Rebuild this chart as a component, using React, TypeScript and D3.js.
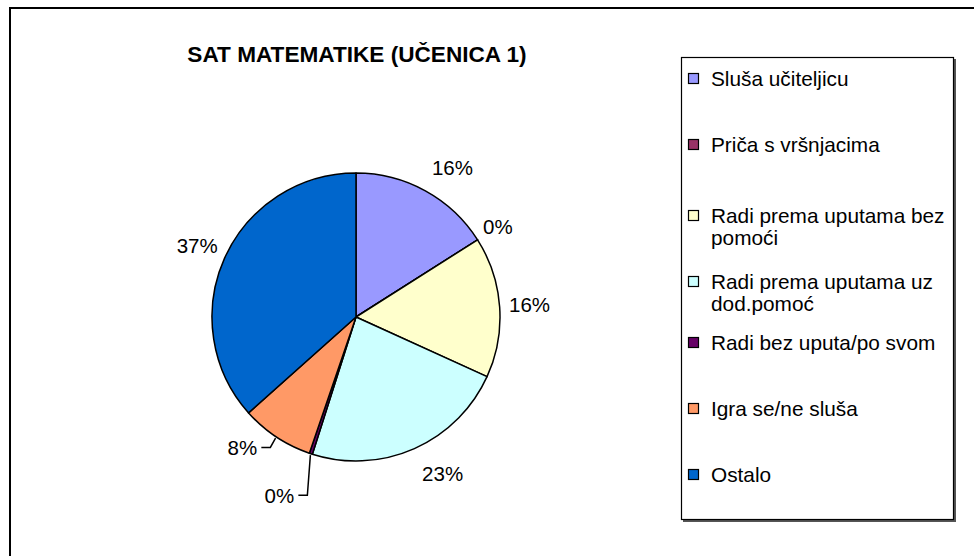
import * as d3 from "d3";

// Pie: share of observed time per activity (Excel-style chart)
const categories = [
  "Sluša učiteljicu",
  "Priča s vršnjacima",
  "Radi prema uputama bez\npomoći",
  "Radi prema uputama uz\ndod.pomoć",
  "Radi bez uputa/po svom",
  "Igra se/ne sluša",
  "Ostalo",
];
const values = [16, 0, 15.8, 23.1, 0.35, 8.15, 36.6];
const colors = ["#9999ff", "#993366", "#ffffcc", "#ccffff", "#660066", "#ff9966", "#0066cc"];

const FONT = "Arial, 'Liberation Sans', sans-serif";
const W = 974;
const H = 556;
const CX = 356;
const CY = 317;
const R = 144;
const LABEL_R = 174;

// manual label placement tweaks, like Excel's dragged labels: [deg, radius, leader]
const labelNudge: Record<number, [number, number, boolean]> = {
  0: [4, 4, false],
  1: [0, -6, false],
  3: [-5, 5, false],
  4: [5, 20, true],
  5: [7.5, -1, true],
};

export default function App() {
  const total = d3.sum(values);
  const pie = d3.pie<number>().sort(null).value((d) => d)(values);
  const arc = d3.arc<d3.PieArcDatum<number>>().innerRadius(0).outerRadius(R);
  const pct = (v: number) => `${Math.round((v / total) * 100)}%`;

  return (
    <div style={{ position: "fixed", left: 0, top: 0, width: W, height: H, overflow: "hidden", background: "#fff" }}>
      <svg width={W} height={H} viewBox={`0 0 ${W} ${H}`} style={{ display: "block" }} fontFamily={FONT}>
        <rect x={10} y={8} width={990} height={580} fill="#fff" stroke="#000" strokeWidth={2} />
        <text x={357} y={62} textAnchor="middle" fontSize={22.6} fontWeight={700} fill="#000">
          SAT MATEMATIKE (UČENICA 1)
        </text>

        <g transform={`translate(${CX},${CY})`}>
          {pie.map((p, i) => (
            <path key={i} d={arc(p) || ""} fill={colors[i]} stroke="#000" strokeWidth={1.5} strokeLinejoin="round" />
          ))}
          {pie.map((p, i) => {
            const mid = (p.startAngle + p.endAngle) / 2;
            const [dDeg, dR, leader] = labelNudge[i] || [0, 0, false];
            const a = mid + (dDeg * Math.PI) / 180;
            const r = LABEL_R + dR;
            const lx = r * Math.sin(a);
            const ly = -r * Math.cos(a);
            const edge = [(R + 1.5) * Math.sin(mid), -(R + 1.5) * Math.cos(mid)];
            const right = lx + 15;
            return (
              <g key={`l${i}`}>
                {leader && (
                  <polyline
                    points={`${right + 4},${ly} ${right + 13},${ly} ${edge[0]},${edge[1]}`}
                    fill="none"
                    stroke="#000"
                    strokeWidth={1.5}
                  />
                )}
                <text x={lx} y={ly} dy="0.36em" textAnchor="middle" fontSize={20.5} fill="#000">
                  {pct(values[i])}
                </text>
              </g>
            );
          })}
        </g>

        {/* legend */}
        <rect x={683} y={59} width={273} height={463} fill="#555" />
        <rect x={681.5} y={57.5} width={272} height={462} fill="#fff" stroke="#000" strokeWidth={1.2} />
        {categories.map((c, i) => {
          const lines = c.split("\n");
          const y0 = 79 + 66 * i + (lines.length > 1 ? 5 : 0);
          return (
            <g key={`g${i}`}>
              <rect x={688.5} y={y0 - 5.5} width={10} height={10} fill={colors[i]} stroke="#000" strokeWidth={1.2} />
              {lines.map((t, j) => (
                <text key={j} x={711} y={y0 + j * 21.5} dy="0.36em" fontSize={20.8} fill="#000">
                  {t}
                </text>
              ))}
            </g>
          );
        })}
      </svg>
    </div>
  );
}
